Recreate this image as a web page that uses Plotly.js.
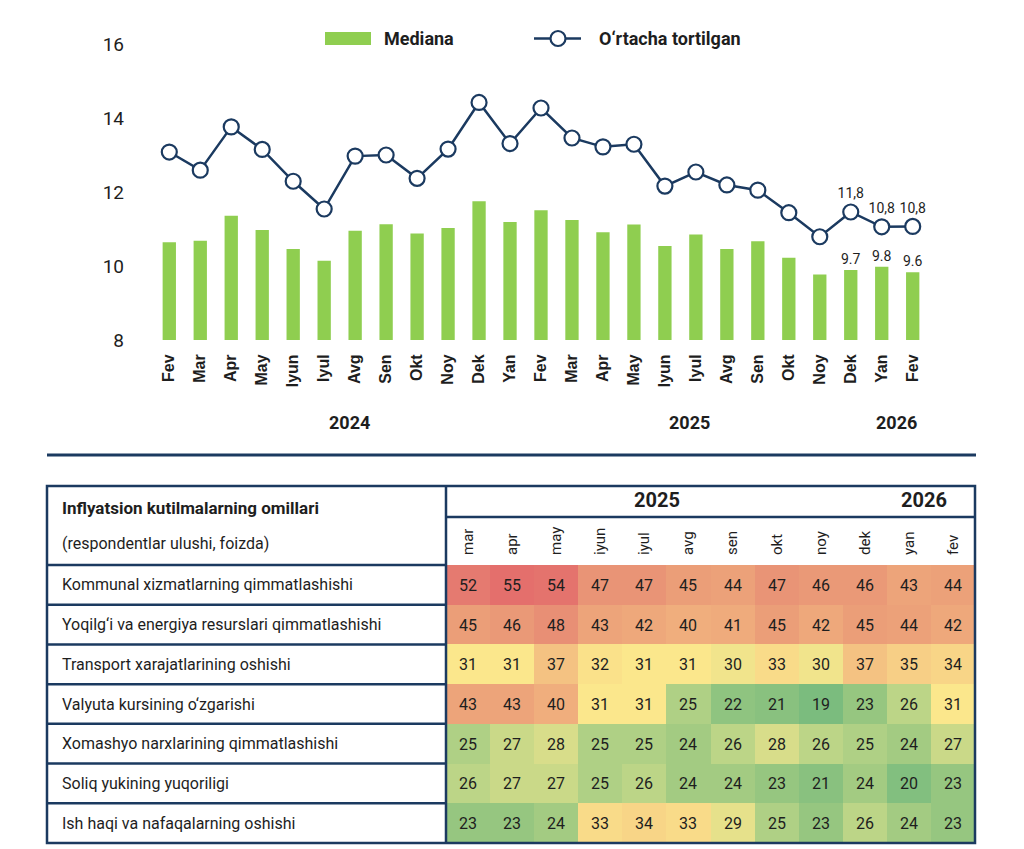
<!DOCTYPE html>
<html>
<head>
<meta charset="utf-8">
<script src="https://cdn.plot.ly/plotly-3.0.1.min.js"></script>
<style>
html,body{margin:0;padding:0;background:#fff;}
#chart{width:1024px;height:849px;}
</style>
</head>
<body>
<div id="chart"></div>
<script>
// ---------- DATA ----------
const months = ["Fev","Mar","Apr","May","Iyun","Iyul","Avg","Sen","Okt","Noy","Dek","Yan",
                "Fev","Mar","Apr","May","Iyun","Iyul","Avg","Sen","Okt","Noy","Dek","Yan","Fev"];
const years = ["2024","2025","2026"];
const median = [10.64,10.68,11.36,10.97,10.46,10.14,10.95,11.13,10.88,11.03,11.75,11.19,
                11.51,11.24,10.91,11.12,10.54,10.85,10.46,10.67,10.22,9.77,9.89,9.98,9.83];
const weighted = [13.08,12.59,13.76,13.15,12.29,11.54,12.97,13.00,12.37,13.16,14.42,13.31,
                  14.27,13.46,13.22,13.29,12.16,12.54,12.19,12.05,11.44,10.79,11.46,11.06,11.07];
const medianLabels = ["","","","","","","","","","","","","","","","","","","","","","","9.7","9.8","9.6"];
const weightedLabels = ["","","","","","","","","","","","","","","","","","","","","","","11,8","10,8","10,8"];
const seriesNames = ["Mediana","O‘rtacha tortilgan"];

const tableTitle = "Inflyatsion kutilmalarning omillari";
const tableSubtitle = "(respondentlar ulushi, foizda)";
const tableYears = ["2025","2026"];
const tableMonths = ["mar","apr","may","iyun","iyul","avg","sen","okt","noy","dek","yan","fev"];
const factors = [
  "Kommunal xizmatlarning qimmatlashishi",
  "Yoqilg‘i va energiya resurslari qimmatlashishi",
  "Transport xarajatlarining oshishi",
  "Valyuta kursining o‘zgarishi",
  "Xomashyo narxlarining qimmatlashishi",
  "Soliq yukining yuqoriligi",
  "Ish haqi va nafaqalarning oshishi"
];
const shares = [
  [52,55,54,47,47,45,44,47,46,46,43,44],
  [45,46,48,43,42,40,41,45,42,45,44,42],
  [31,31,37,32,31,31,30,33,30,37,35,34],
  [43,43,40,31,31,25,22,21,19,23,26,31],
  [25,27,28,25,25,24,26,28,26,25,24,27],
  [26,27,27,25,26,24,24,23,21,24,20,23],
  [23,23,24,33,34,33,29,25,23,26,24,23]
];

// ---------- LAYOUT HELPERS ----------
const W = 1024, H = 849;
const px = x => x / W;
const py = y => 1 - y / H;
const NAVY = "#1b3a60";
const GREEN = "#8fce50";
const TXT = "#1e1e1e";
const idx = months.map((m, i) => i);

const traces = [
  {
    type: "bar", x: idx, y: median, name: seriesNames[0],
    marker: {color: GREEN},
    text: medianLabels, textposition: "outside", cliponaxis: false, constraintext: "none",
    textfont: {family: "Roboto", size: 14, color: TXT},
    hoverinfo: "y", showlegend: false
  },
  {
    type: "scatter", mode: "lines+markers+text", x: idx, y: weighted, name: seriesNames[1],
    line: {color: NAVY, width: 2.5},
    marker: {size: 15, color: "#ffffff", line: {color: NAVY, width: 2.2}},
    text: weightedLabels, textposition: "top center", cliponaxis: false,
    textfont: {family: "Roboto", size: 14, color: TXT},
    hoverinfo: "y", showlegend: false
  },
  {
    type: "heatmap", xaxis: "x2", yaxis: "y2",
    x: tableMonths, y: factors, z: shares,
    zmin: 19, zmax: 55, showscale: false, xgap: 0, ygap: 0,
    colorscale: [
      [0.000, "#7bbc7e"],
      [0.111, "#96c680"],
      [0.194, "#bcd587"],
      [0.278, "#e6e18b"],
      [0.333, "#fbe78c"],
      [0.444, "#f7cf86"],
      [0.583, "#f0ae7d"],
      [0.722, "#eb9e78"],
      [0.917, "#e57a70"],
      [1.000, "#e46f6c"]
    ],
    texttemplate: "%{z}",
    textfont: {family: "Roboto", size: 16, color: TXT},
    hoverinfo: "z"
  }
];

const annotations = [];
// year labels under top chart
const yearPos = [349, 689, 896];
years.forEach((yr, i) => annotations.push({
  text: yr, xref: "paper", yref: "paper", x: px(yearPos[i]), y: py(422),
  xanchor: "center", yanchor: "middle", showarrow: false,
  font: {family: "Roboto", size: 18, weight: "bold", color: TXT}
}));
// legend texts
annotations.push({text: seriesNames[0], xref: "paper", yref: "paper", x: px(382), y: py(39),
  xanchor: "left", yanchor: "middle", showarrow: false,
  font: {family: "Roboto", size: 18, weight: "bold", color: TXT}});
annotations.push({text: seriesNames[1], xref: "paper", yref: "paper", x: px(597), y: py(39),
  xanchor: "left", yanchor: "middle", showarrow: false,
  font: {family: "Roboto", size: 18, weight: "bold", color: TXT}});
// table header
annotations.push({text: tableTitle, xref: "paper", yref: "paper", x: px(60), y: py(508),
  xanchor: "left", yanchor: "middle", showarrow: false,
  font: {family: "Roboto", size: 17, weight: "bold", color: TXT}});
annotations.push({text: tableSubtitle, xref: "paper", yref: "paper", x: px(60), y: py(543),
  xanchor: "left", yanchor: "middle", showarrow: false,
  font: {family: "Roboto", size: 16, color: TXT}});
const tYearPos = [657, 924];
tableYears.forEach((yr, i) => annotations.push({
  text: yr, xref: "paper", yref: "paper", x: px(tYearPos[i]), y: py(500),
  xanchor: "center", yanchor: "middle", showarrow: false,
  font: {family: "Roboto", size: 20, weight: "bold", color: TXT}
}));
// factor row labels
factors.forEach(f => annotations.push({
  text: f, xref: "paper", yref: "y2", x: px(60), y: f,
  xanchor: "left", yanchor: "middle", showarrow: false,
  font: {family: "Roboto", size: 16, color: TXT}
}));

const shapes = [];
const line = (x0, y0, x1, y1, w) => shapes.push({type: "line", xref: "paper", yref: "paper",
  x0: px(x0), y0: py(y0), x1: px(x1), y1: py(y1), line: {color: NAVY, width: w}});
// legend symbols
shapes.push({type: "rect", xref: "paper", yref: "paper", x0: px(325), x1: px(371), y0: py(45), y1: py(32),
  fillcolor: GREEN, line: {width: 0}});
line(534, 38.5, 581, 38.5, 2.5);
shapes.push({type: "circle", xref: "paper", yref: "paper", x0: px(550.5), x1: px(565.5), y0: py(46), y1: py(31),
  fillcolor: "#ffffff", line: {color: NAVY, width: 2.2}});
// separator
line(47, 455, 976, 455, 3);
// table borders
const rowTop = 565, rowBottom = 843;
const rh = (rowBottom - rowTop) / factors.length;
for (let k = 0; k < factors.length; k++) line(47, rowTop + k * rh, 446, rowTop + k * rh, 2.5);
line(446, 517, 975, 517, 2.5);
line(446, 486, 446, rowBottom, 2.5);
shapes.push({type: "rect", xref: "paper", yref: "paper", x0: px(47), x1: px(975), y0: py(rowBottom), y1: py(486),
  line: {color: NAVY, width: 2.5}});

const layout = {
  width: W, height: H,
  margin: {l: 0, r: 0, t: 0, b: 0},
  paper_bgcolor: "#ffffff", plot_bgcolor: "rgba(0,0,0,0)",
  font: {family: "Roboto", color: TXT},
  bargap: 0.57,
  showlegend: false,
  xaxis: {
    domain: [px(153.8), px(928.2)], range: [-0.5, 24.5], anchor: "y",
    tickmode: "array", tickvals: idx, ticktext: months, tickangle: -90,
    tickfont: {family: "Liberation Sans, Arial", size: 16, weight: "bold", color: TXT},
    ticks: "outside", ticklen: 7, tickcolor: "rgba(0,0,0,0)",
    showgrid: false, zeroline: false, showline: false, fixedrange: true
  },
  yaxis: {
    domain: [py(340), py(44)], range: [8, 16], dtick: 2, anchor: "x",
    tickfont: {family: "Roboto", size: 19, color: TXT},
    ticks: "outside", ticklen: 25, tickcolor: "rgba(0,0,0,0)",
    showgrid: false, zeroline: false, showline: false, fixedrange: true
  },
  xaxis2: {
    domain: [px(446), px(975)], anchor: "y2", side: "top",
    tickangle: -90, tickfont: {family: "Roboto", size: 15, color: TXT},
    ticks: "outside", ticklen: 6, tickcolor: "rgba(0,0,0,0)",
    showgrid: false, zeroline: false, showline: false, fixedrange: true
  },
  yaxis2: {
    domain: [py(rowBottom), py(rowTop)], anchor: "x2", autorange: "reversed",
    showticklabels: false, ticks: "", showgrid: false, zeroline: false, showline: false, fixedrange: true
  },
  annotations: annotations,
  shapes: shapes
};

Plotly.newPlot("chart", traces, layout, {displayModeBar: false, staticPlot: true});
</script>
</body>
</html>
